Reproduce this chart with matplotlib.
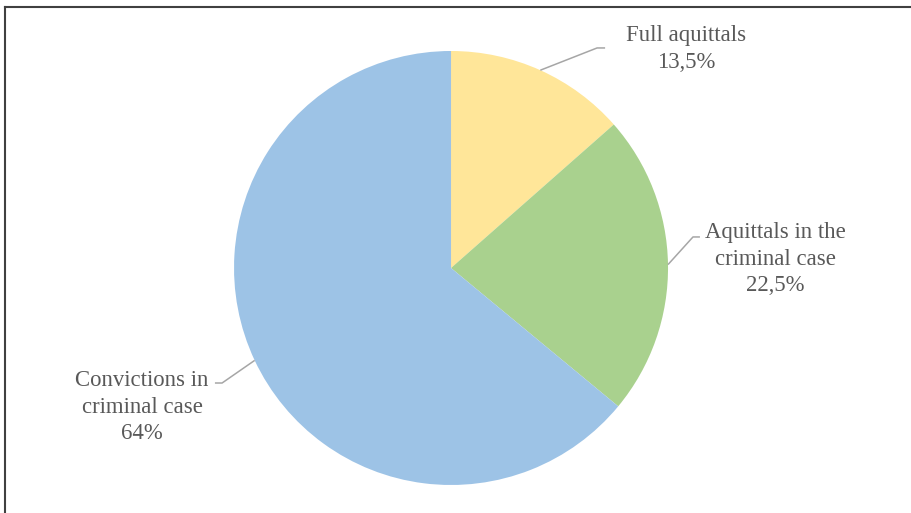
import numpy as np
import matplotlib
matplotlib.use('Agg')
from matplotlib import pyplot as plt
from matplotlib.lines import Line2D

# data
labels = ['Full aquittals', 'Aquittals in the\ncriminal case', 'Convictions in\ncriminal case']
pct_text = ['13,5%', '22,5%', '64%']
values = [13.5, 22.5, 64.0]
colors = ['#FFE699', '#A9D18E', '#9DC3E6']

# label placement (axes data units, pie radius = 1)
label_pos = [(1.083, 1.01), (1.493, 0.04), (-1.424, -0.642)]
elbow_pos = [(0.673, 1.014), (1.115, 0.143), (-1.055, -0.530)]
shelf_pos = [(0.710, 1.014), (1.147, 0.143), (-1.088, -0.530)]

plt.rcParams['font.family'] = ['Liberation Serif', 'DejaVu Serif']

fig = plt.figure(figsize=(9.12, 5.13), dpi=100)
ax = fig.add_axes([0.2566, 0.0546, 0.4759, 0.846])
wedges, _ = ax.pie(values, colors=colors, startangle=90, counterclock=False,
                   radius=1, wedgeprops=dict(linewidth=0))
ax.set_xlim(-1, 1)
ax.set_ylim(-1, 1)
ax.set_aspect('equal')
ax.axis('off')

#labels with leader lines
for w, lab, pct, lp, ep, sp in zip(wedges, labels, pct_text, label_pos, elbow_pos, shelf_pos):
    ang = np.deg2rad((w.theta1 + w.theta2) / 2)
    x0, y0 = np.cos(ang), np.sin(ang)
    ax.plot([x0, ep[0], sp[0]], [y0, ep[1], sp[1]], color='#A6A6A6', lw=1.1,
            clip_on=False, solid_capstyle='butt')
    ax.text(lp[0], lp[1], lab + '\n' + pct, ha='center', va='center',
            fontsize=16.4, color='#595959', linespacing=1.35)

# frame (only top and left visible in the cropped image)
fig.add_artist(Line2D([0.006, 1.0], [0.986, 0.986], transform=fig.transFigure,
                      color='#404040', lw=1.5))
fig.add_artist(Line2D([0.006, 0.006], [0.0, 0.986], transform=fig.transFigure,
                      color='#404040', lw=1.5))

fig.savefig('out.png', dpi=100)
